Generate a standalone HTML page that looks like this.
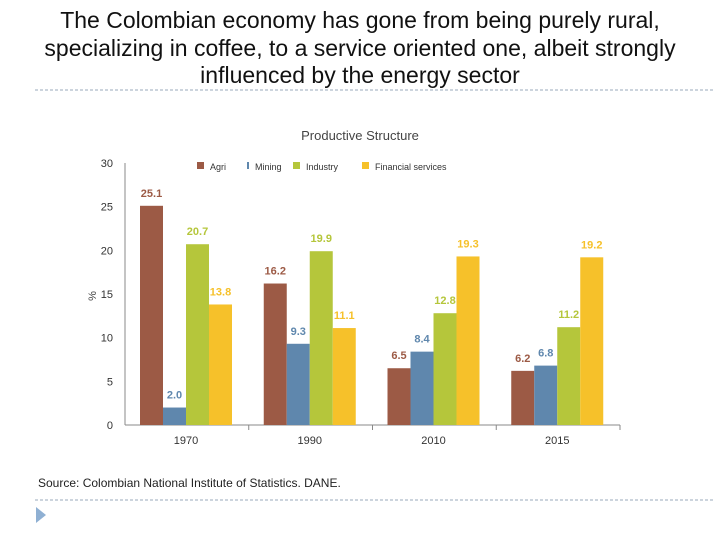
<!DOCTYPE html>
<html><head><meta charset="utf-8"><style>
body{margin:0;width:720px;height:540px;background:#fff;overflow:hidden;font-family:"Liberation Sans",sans-serif;}
#title{position:absolute;left:0;top:7px;width:720px;text-align:center;font-size:23px;line-height:27.5px;color:#111;}
</style></head><body>
<div id="title">The Colombian economy has gone from being purely rural,<br>specializing in coffee, to a service oriented one, albeit strongly<br>influenced by the energy sector</div>
<svg id="chart" width="720" height="540" style="position:absolute;left:0;top:0">
<line x1="35" y1="90" x2="715" y2="90" stroke="#9ab" stroke-dasharray="3,2"/>
<line x1="35" y1="500" x2="715" y2="500" stroke="#9ab" stroke-dasharray="3,2"/>
<polygon points="36,507 36,523 46,515" fill="#8fb0d3"/>
<text x="360" y="140" text-anchor="middle" font-size="13" fill="#444">Productive Structure</text>
<text x="96" y="296" font-size="11" fill="#444" transform="rotate(-90 96 296)" text-anchor="middle">%</text>
<text x="38" y="487" font-size="12" fill="#222">Source: Colombian National Institute of Statistics. DANE.</text>
<g id="plot"></g>
</svg>
<script>
const years=["1970","1990","2010","2015"];
const seriesNames=["Agri","Mining","Industry","Financial services"];
const agri=[25.1,16.2,6.5,6.2];
const mining=[2.0,9.3,8.4,6.8];
const industry=[20.7,19.9,12.8,11.2];
const financial=[13.8,11.1,19.3,19.2];
const yTicks=[0,5,10,15,20,25,30];
const colors=["#9c5a45","#5f87ad","#b5c63b","#f6c12a"];
const series=[agri,mining,industry,financial];
const NS="http://www.w3.org/2000/svg";
const g=document.getElementById('plot');
const x0=125,x1=620,y0=425,yTop=163,ymax=30;
const y=v=>y0-(v/ymax)*(y0-yTop);
const gw=(x1-x0)/years.length, bw=23, off=15;
function mk(t,a){const e=document.createElementNS(NS,t);for(const k in a)e.setAttribute(k,a[k]);g.appendChild(e);return e;}
let ax=mk('line',{x1:x0,y1:yTop,x2:x0,y2:y0,stroke:'#888'});


let bx=mk('line',{x1:x0,y1:y0,x2:x1,y2:y0,stroke:'#888'});


yTicks.forEach(t=>{const e=mk('text',{x:113,y:y(t)+4,'text-anchor':'end','font-size':11,fill:'#333'});e.textContent=t;

});
years.forEach((yr,i)=>{
 const gx=x0+i*gw;
 const tk=mk('line',{x1:gx+gw,y1:y0,x2:gx+gw,y2:y0+5,stroke:'#888'});
 
 
 const lt=mk('text',{x:gx+off+2*bw,y:y0+19,'text-anchor':'middle','font-size':11,fill:'#333'});lt.textContent=yr;
 
 
 series.forEach((s,j)=>{
  const bxp=gx+off+j*bw,v=s[i];
  const r=mk('rect',{x:bxp,y:y(v),width:bw,height:y0-y(v),fill:colors[j]});
  
  
  const l=mk('text',{x:bxp+bw/2,y:y(v)-9,'text-anchor':'middle','font-size':11,'font-weight':'bold',fill:colors[j]});
  l.textContent=v.toFixed(1);
  
  
 });
});
const lx=[197,245,293,362];
seriesNames.forEach((n,j)=>{
 const m=mk('rect',{x:lx[j]+(j==1?2:0),y:162,width:j==1?2:7,height:7,fill:colors[j]});
 
 
 const t=mk('text',{x:lx[j]+(j==1?10:13),y:170,'font-size':9,fill:'#333'});t.textContent=n;
 
 
});
</script>
</body></html>
